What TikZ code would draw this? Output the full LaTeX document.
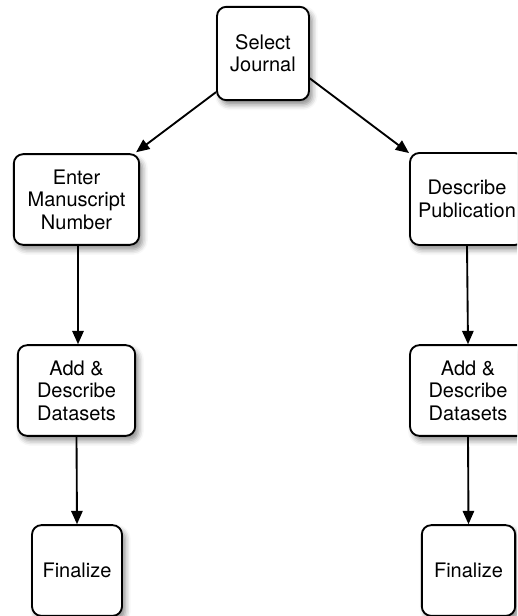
\documentclass[tikz,border=0pt]{standalone}
\usepackage{fontspec}
\setmainfont{TeX Gyre Heros}
\usetikzlibrary{arrows.meta,calc,shadows.blur}
\begin{document}
\begin{tikzpicture}[x=0.75pt,y=-0.75pt,
  box/.style={draw=black, line width=1.4pt, rounded corners=7pt, fill=white,
    align=center, inner sep=0pt, font=\fontsize{15}{16.8}\selectfont,
    blur shadow={shadow xshift=2.5pt, shadow yshift=-3.5pt, shadow blur radius=4pt, shadow opacity=45}},
  arr/.style={draw=black, line width=1.4pt, -{Triangle[length=10pt,width=8.5pt]}}]
\useasboundingbox (0,0) rectangle (517,616);
\clip (0,0) rectangle (517,616);
\node[box, minimum width=69pt, minimum height=70pt] (sj) at (263,53.5) {Select\\Journal};
\node[box, minimum width=94pt, minimum height=68pt] (em) at (76.5,199.5) {Enter\\Manuscript\\Number};
\node[box, minimum width=85.5pt, minimum height=69pt] (dp) at (467,199) {Describe\\Publication};
\node[box, minimum width=88pt, minimum height=68pt] (ad1) at (76.5,390.5) {Add \&\\Describe\\Datasets};
\node[box, minimum width=87pt, minimum height=68pt] (ad2) at (468,390.5) {Add \&\\Describe\\Datasets};
\node[box, minimum width=67.5pt, minimum height=68pt] (fi1) at (77,570.5) {Finalize};
\node[box, minimum width=70pt, minimum height=68pt] (fi2) at (468.5,570.5) {Finalize};
\draw[arr] ($(sj.south west)+(0,-9)$) -- ($(em.north east)+(-4,-1)$);
\draw[arr] ($(sj.south east)+(-0.5,-23)$) -- ($(dp.north west)+(0,1)$);
\draw[arr] ($(em.south)+(1.5,0)$) -- ($(ad1.north)+(1.5,0)$);
\draw[arr] (ad1.south) -- (fi1.north);
\draw[arr] (dp.south) -- (ad2.north);
\draw[arr] (ad2.south) -- (fi2.north);
\end{tikzpicture}
\end{document}
